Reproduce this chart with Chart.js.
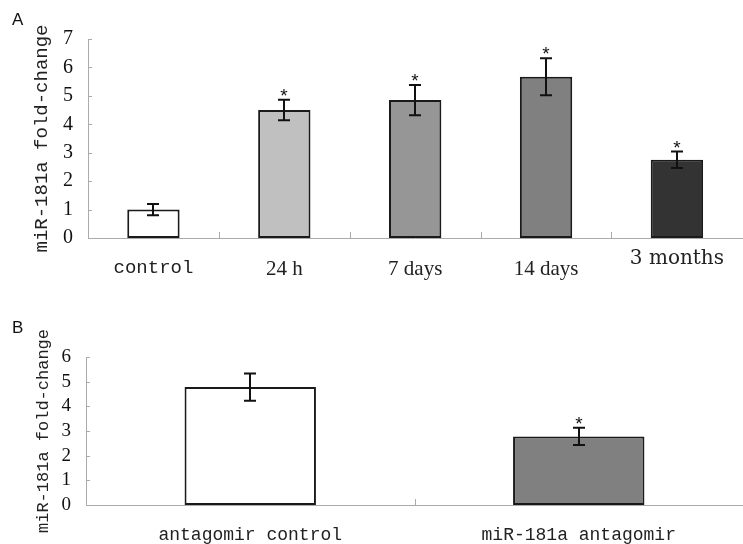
<!DOCTYPE html>
<html>
<head>
<meta charset="utf-8">
<script src="https://cdn.jsdelivr.net/npm/chart.js@4.4.1/dist/chart.umd.min.js"></script>
<style>
  body { margin:0; background:#fff; }
  #wrap { position:relative; width:743px; height:544px; overflow:hidden; }
  canvas { position:absolute; left:0; }
  .lbl { position:absolute; font-family:"Liberation Sans", Arial, sans-serif; font-size:17px; color:#111; }
</style>
</head>
<body>
<div id="wrap">
  <canvas id="chartA" width="743" height="290" style="top:0"></canvas>
  <canvas id="chartB" width="743" height="254" style="top:290px"></canvas>
  <div class="lbl" style="left:12px;top:10px">A</div>
  <div class="lbl" style="left:12px;top:318px">B</div>
</div>
<script>
// panel A: time course
const labelsA = ["control", "24 h", "7 days", "14 days", "3 months"];
const valuesA = [1.0, 4.5, 4.85, 5.67, 2.75];
const errA = [0.2, 0.36, 0.53, 0.65, 0.29];
const sigA = [false, true, true, true, true];
const colorsA = ["#ffffff", "#c0c0c0", "#969696", "#808080", "#333333"];
const ticksA = [0, 1, 2, 3, 4, 5, 6, 7];

// panel B: antagomir
const labelsB = ["antagomir control", "miR-181a antagomir"];
const valuesB = [4.78, 2.78];
const errB = [0.55, 0.35];
const sigB = [false, true];
const colorsB = ["#ffffff", "#808080"];
const ticksB = [0, 1, 2, 3, 4, 5, 6];

const yTitle = "miR-181a fold-change";
const axisGray = "#aaaaaa";

// error bars, stars and the little inward tick marks
function extras(err, sig) {
	return {
		id: 'extras',
		afterDatasetsDraw(chart) {
			const ctx = chart.ctx;
			const x = chart.scales.x, y = chart.scales.y;
			const vals = chart.data.datasets[0].data;
			ctx.save();
			ctx.strokeStyle = "#111";
			ctx.lineWidth = 2;
			ctx.fillStyle = "#111";
			ctx.font = "19px 'Liberation Sans', sans-serif";
			ctx.textAlign = "center";
			ctx.textBaseline = "alphabetic";
			for (let i = 0; i < vals.length; i++) {
				const px = Math.round(x.getPixelForValue(i));
				const top = y.getPixelForValue(vals[i] + err[i]);
				const bot = y.getPixelForValue(vals[i] - err[i]);
				ctx.beginPath();
				ctx.moveTo(px, top); ctx.lineTo(px, bot);
				ctx.moveTo(px - 6, top); ctx.lineTo(px + 6, top);
				ctx.moveTo(px - 6, bot); ctx.lineTo(px + 6, bot);
				ctx.stroke();
				if (sig[i]) ctx.fillText("*", px, top + 2);
			}
			// inward ticks
			ctx.strokeStyle = axisGray;
			ctx.lineWidth = 1;
			ctx.beginPath();
			y.ticks.forEach(t => {
				const py = Math.round(y.getPixelForValue(t.value)) + 0.5;
				ctx.moveTo(x.left, py); ctx.lineTo(x.left + 4, py);
			});
			for (let i = 0; i < vals.length - 1; i++) {
				const bx = Math.round((x.getPixelForValue(i) + x.getPixelForValue(i + 1)) / 2) + 0.5;
				ctx.moveTo(bx, y.bottom); ctx.lineTo(bx, y.bottom - 6);
			}
			ctx.stroke();
			ctx.restore();
		}
	};
}

function makeChart(id, labels, values, colors, err, sig, tickVals, opt) {
	const ctx = document.getElementById(id).getContext('2d');
	return new Chart(ctx, {
		type: 'bar',
		data: {
			labels: labels,
			datasets: [{
				data: values,
				backgroundColor: colors,
				borderColor: "#1a1a1a",
				borderWidth: 2,
				borderSkipped: false,
				barPercentage: 0.4,
				categoryPercentage: 1.0
			}]
		},
		options: {
			responsive: false,
			animation: false,
			devicePixelRatio: 1,
			layout: { padding: { top: opt.top, left: 0, right: 0, bottom: 0 } },
			plugins: { legend: { display: false }, tooltip: { enabled: false } },
			scales: {
				x: {
					offset: true,
					grid: { display: false, drawTicks: false },
					border: { color: axisGray, width: 1 },
					ticks: {
						padding: opt.xPad,
						color: "#222",
						font: opt.xFont
					},
					afterFit: s => { s.height = opt.xHeight; }
				},
				y: {
					min: 0,
					max: tickVals[tickVals.length - 1],
					afterBuildTicks: s => { s.ticks = tickVals.map(v => ({ value: v })); },
					grid: { display: false, drawTicks: false },
					border: { color: axisGray, width: 1 },
					ticks: {
						autoSkip: false,
						padding: 15,
						color: "#111",
						font: { family: "'Liberation Serif', serif", size: opt.yTickSize }
					},
					title: {
						display: true,
						text: yTitle,
						color: "#222",
						font: { family: "'Liberation Mono', monospace", size: opt.titleSize },
						padding: { top: opt.titlePad, bottom: 0 }
					},
					afterFit: s => { s.width = opt.yWidth; }
				}
			}
		},
		plugins: [extras(err, sig)]
	});
}

makeChart('chartA', labelsA, valuesA, colorsA, errA, sigA, ticksA, {
	top: 39, xHeight: 52, xPad: 19, yWidth: 88, yTickSize: 20, titleSize: 19, titlePad: 31,
	xFont: c => {
		if (c.index === 0) return { family: "'Liberation Mono', monospace", size: 19 };
		if (c.index === 4) return { family: "'DejaVu Serif', serif", size: 20, lineHeight: 0.15 };
		return { family: "'Liberation Serif', serif", size: 21 };
	}
});

makeChart('chartB', labelsB, valuesB, colorsB, errB, sigB, ticksB, {
	top: 67, xHeight: 39, xPad: 19, yWidth: 86, yTickSize: 19, titleSize: 17, titlePad: 33,
	xFont: { family: "'Liberation Mono', monospace", size: 18 }
});
</script>
</body>
</html>
